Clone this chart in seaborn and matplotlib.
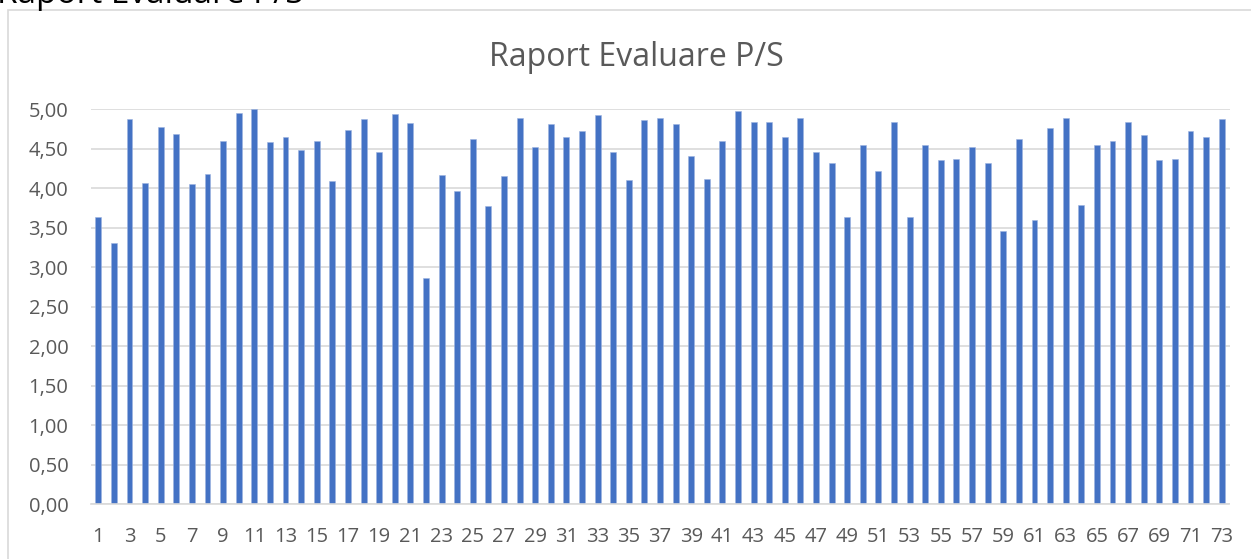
import matplotlib
matplotlib.use("Agg")
import matplotlib.pyplot as plt
from matplotlib.patches import Rectangle
import seaborn as sns
import pandas as pd

# values
nr = [str(i) for i in range(1, 74)]
raport = [3.64, 3.30, 4.87, 4.07, 4.77, 4.68, 4.05, 4.18, 4.59, 4.95,
          5.00, 4.58, 4.65, 4.48, 4.59, 4.09, 4.73, 4.87, 4.45, 4.94,
          4.82, 2.86, 4.16, 3.96, 4.62, 3.77, 4.15, 4.88, 4.52, 4.81,
          4.65, 4.72, 4.92, 4.46, 4.10, 4.86, 4.89, 4.81, 4.41, 4.11,
          4.60, 4.97, 4.84, 4.84, 4.65, 4.88, 4.45, 4.32, 3.64, 4.54,
          4.22, 4.84, 3.64, 4.54, 4.35, 4.37, 4.52, 4.32, 3.46, 4.62,
          3.59, 4.76, 4.88, 3.78, 4.54, 4.59, 4.84, 4.67, 4.35, 4.37,
          4.72, 4.64, 4.87]
yticks = [0, 0.5, 1, 1.5, 2, 2.5, 3, 3.5, 4, 4.5, 5]
ytick_labels = ["0,00", "0,50", "1,00", "1,50", "2,00", "2,50",
                "3,00", "3,50", "4,00", "4,50", "5,00"]

df = pd.DataFrame({"nr": nr, "raport": raport})

sns.set_style("white")
plt.rcParams["font.family"] = ["Open Sans", "DejaVu Sans"]

W, H = 1251, 559
fig = plt.figure(figsize=(W / 100, H / 100), dpi=100)
ax = fig.add_axes([90.5 / W, 1 - 504.3 / H, 1139 / W, 395.3 / H])

sns.barplot(data=df, x="nr", y="raport", color="#4472C4", width=0.38,
            saturation=1, ax=ax, edgecolor="#9DB3E0", linewidth=0.4)

ax.set_xlim(-0.5, 72.5)
ax.set_ylim(0, 5)
ax.set_yticks(yticks)
ax.set_yticklabels(ytick_labels)
ax.set_xticks(range(0, 73, 2))
ax.set_xticklabels(nr[::2])
ax.set_xlabel("")
ax.set_ylabel("")
ax.grid(axis="y", color="#D9D9D9", linewidth=1.2)
ax.set_axisbelow(True)
for s in ["top", "right", "left"]:
    ax.spines[s].set_visible(False)
ax.spines["bottom"].set_color("#D9D9D9")
ax.spines["bottom"].set_linewidth(1.2)
ax.tick_params(axis="both", length=0, labelsize=14.5, colors="#595959")
ax.tick_params(axis="x", pad=16)
ax.tick_params(axis="y", pad=16)

fig.text(636 / W, 1 - 57 / H, "Raport Evaluare P/S", ha="center", va="center",
         fontsize=23, color="#595959")

# chart area frame (cut off at right and bottom)
fig.patches.append(Rectangle((8 / W, -0.1), 1.2, (H - 10) / H + 0.1,
                             transform=fig.transFigure, fill=False,
                             edgecolor="#D9D9D9", linewidth=1.2))

# title of the document above, mostly cut off
fig.text(-3 / W, 1 - 3 / H, "Raport Evaluare P/S", ha="left", va="baseline",
         fontsize=24, color="black")

fig.savefig("out.png", dpi=100)
